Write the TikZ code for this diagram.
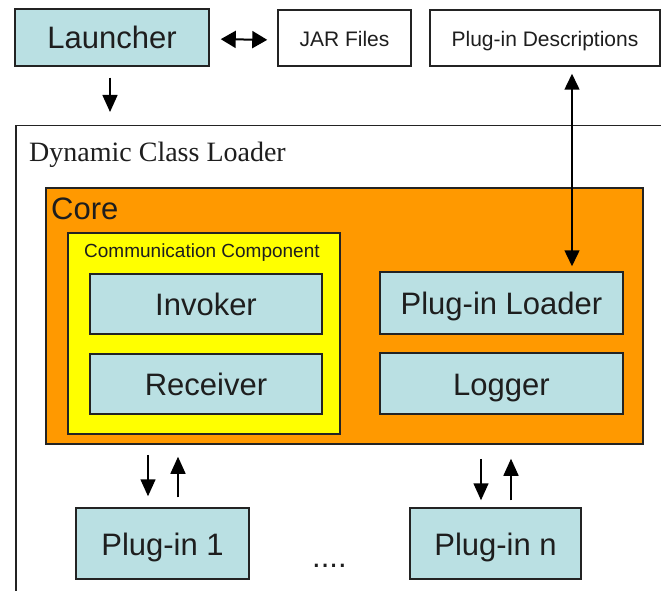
\documentclass[tikz,border=0pt]{standalone}
\usepackage{fontspec}
\setmainfont{Liberation Sans}
\newfontfamily\serifface{Liberation Serif}
\usetikzlibrary{arrows.meta}
\definecolor{lblue}{RGB}{186,224,227}
\definecolor{coreorange}{RGB}{255,153,0}
\definecolor{ccyellow}{RGB}{255,255,0}
\definecolor{edge}{RGB}{35,35,35}
\definecolor{ink}{RGB}{30,30,30}
\tikzset{
  bluebox/.style={draw=edge, line width=1.5pt, fill=lblue, text=ink, inner sep=0pt,
    text height=23pt, text depth=0pt,
    font=\fontsize{31}{31}\selectfont},
  whitebox/.style={draw=edge, line width=1.5pt, fill=white, text=ink, inner sep=0pt,
    text height=17pt, text depth=0pt,
    font=\fontsize{21}{21}\selectfont},
  arr/.style={draw=black, line width=1.5pt, -{Triangle[length=17pt,width=15pt]}},
  twoarr/.style={draw=black, line width=1.5pt, {Triangle[length=16pt,width=15pt]}-{Triangle[length=16pt,width=15pt]}},
  dblarr/.style={draw=black, line width=2pt, {Triangle[length=15pt,width=17pt]}-{Triangle[length=15pt,width=17pt]}},
  lbl/.style={inner sep=0pt, text=ink}
}
\begin{document}
\begin{tikzpicture}[x=1pt,y=-1pt]
\useasboundingbox (0,0) rectangle (661,591);
\clip (0,0) rectangle (661,591);
% top row
\node[bluebox, minimum width=194pt, minimum height=57pt] (launcher) at (112,37.5) {Launcher};
\node[whitebox, minimum width=133pt, minimum height=56pt] (jar) at (344.5,38) {JAR Files};
\node[whitebox, minimum width=230pt, minimum height=56pt] (pd) at (545,38) {Plug-in Descriptions};
% dynamic class loader
\node[draw=edge, line width=1.5pt, fill=white, minimum width=680pt, minimum height=500pt, anchor=north west, inner sep=0pt] (dcl) at (15,125) {};
\node[lbl, anchor=base west, font=\serifface\fontsize{28}{28}\selectfont] (dcllbl) at (29,161) {Dynamic Class Loader};
% core
\node[draw=edge, line width=1.5pt, fill=coreorange, minimum width=597pt, minimum height=256pt, inner sep=0pt] (core) at (344.5,316) {};
\node[lbl, anchor=base west, font=\fontsize{31}{31}\selectfont] (corelbl) at (51,219) {Core};
% communication component
\node[draw=edge, line width=1.5pt, fill=ccyellow, minimum width=272pt, minimum height=201pt, inner sep=0pt] (cc) at (204,333.5) {};
\node[lbl, anchor=base west, font=\fontsize{19}{19}\selectfont] (cclbl) at (84,257) {Communication Component};
\node[bluebox, minimum width=232pt, minimum height=60pt] (invoker) at (206,304) {Invoker};
\node[bluebox, minimum width=232pt, minimum height=60pt] (receiver) at (206,384) {Receiver};
\node[bluebox, minimum width=243pt, minimum height=62pt] (pl) at (501.5,303) {Plug-in Loader};
\node[bluebox, minimum width=243pt, minimum height=61pt] (logger) at (501.5,383.5) {Logger};
% plug-ins
\node[bluebox, minimum width=173pt, minimum height=71pt] (p1) at (162.5,543.5) {Plug-in 1};
\node[bluebox, minimum width=171pt, minimum height=71pt] (pn) at (495.5,543.5) {Plug-in n};
\node[lbl, anchor=base west, font=\fontsize{31}{31}\selectfont] (dots) at (312,567) {....};
% connectors
\coordinate (xl) at (110,0);
\coordinate (xpd) at (572,0);
\coordinate (xa) at (148,0);
\coordinate (xb) at (178,0);
\coordinate (xc) at (481,0);
\coordinate (xd) at (511,0);
\draw[arr, shorten <=11pt, shorten >=13pt] (launcher.south -| xl) -- (dcl.north -| xl);
\draw[dblarr, shorten <=11pt, shorten >=10pt] ([yshift=-1.5pt]launcher.east) -- ([yshift=-2pt]jar.west);
\draw[twoarr, shorten <=7pt, shorten >=5pt] (pd.south -| xpd) -- (pl.north -| xpd);
\draw[arr, shorten <=10pt, shorten >=11pt] (core.south -| xa) -- (p1.north -| xa);
\draw[arr, shorten <=10pt, shorten >=12pt] (p1.north -| xb) -- (core.south -| xb);
\draw[arr, shorten <=14pt, shorten >=7pt] (core.south -| xc) -- (pn.north -| xc);
\draw[arr, shorten <=7pt, shorten >=14pt] (pn.north -| xd) -- (core.south -| xd);
\end{tikzpicture}
\end{document}
